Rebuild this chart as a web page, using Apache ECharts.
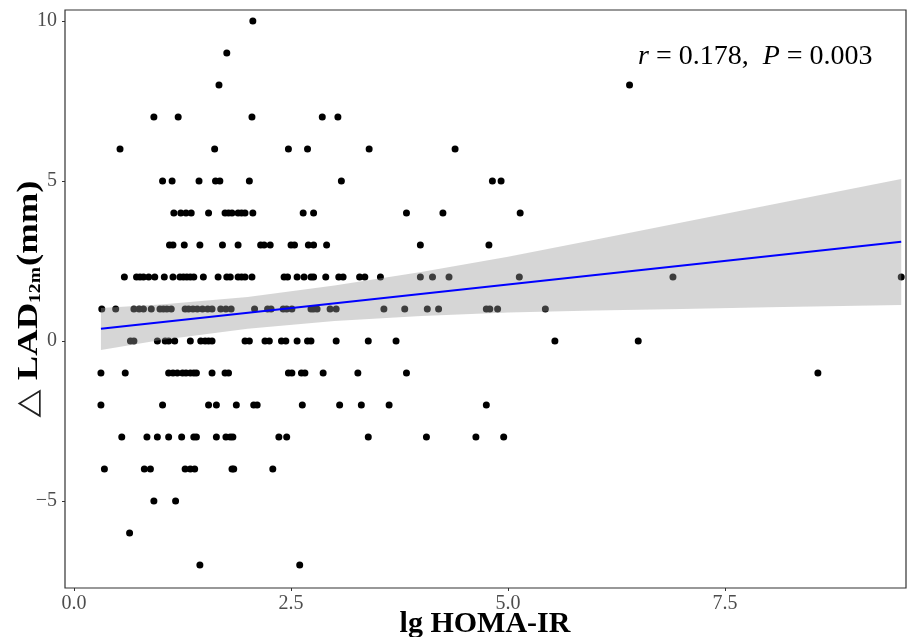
<!DOCTYPE html>
<html>
<head>
<meta charset="utf-8">
<script src="https://cdn.jsdelivr.net/npm/echarts@6/dist/echarts.min.js"></script>
<style>
  html, body { margin: 0; padding: 0; background: #fff; }
  #chart { width: 908px; height: 637px; }
</style>
</head>
<body>
<div id="chart"></div>
<script>
// ΔLAD 取整数值，每一行列出对应的 lg HOMA-IR
var yLevels = [10, 9, 8, 7, 6, 5, 4, 3, 2, 1, 0, -1, -2, -3, -4, -5, -6, -7]
var xByLevel = [
	[2.06],
	[1.76],
	[1.67, 6.40],
	[0.92, 1.20, 2.05, 2.86, 3.04],
	[0.53, 1.62, 2.47, 2.69, 3.40, 4.39],
	[1.02, 1.13, 1.44, 1.63, 1.68, 2.02, 3.08, 4.82, 4.92],
	[1.15, 1.23, 1.29, 1.35, 1.55, 1.74, 1.78, 1.82, 1.89, 1.93, 1.97, 2.06, 2.64, 2.76, 3.83, 4.25, 5.14],
	[1.10, 1.14, 1.27, 1.45, 1.71, 1.89, 2.15, 2.19, 2.26, 2.50, 2.54, 2.70, 2.76, 2.91, 3.99, 4.78],
	[0.58, 0.72, 0.76, 0.80, 0.86, 0.93, 1.04, 1.14, 1.22, 1.26, 1.30, 1.34, 1.38, 1.49, 1.66, 1.76, 1.80, 1.89, 1.93, 1.97, 2.05,
		2.42, 2.46, 2.57, 2.65, 2.73, 2.76, 2.90, 3.05, 3.10, 3.29, 3.35, 3.53, 3.99, 4.13, 4.32, 5.13, 6.90, 9.53],
	[0.32, 0.48, 0.69, 0.75, 0.80, 0.89, 0.99, 1.03, 1.07, 1.12, 1.28, 1.32, 1.37, 1.42, 1.48, 1.54, 1.59, 1.69, 1.75, 1.81,
		2.08, 2.23, 2.27, 2.41, 2.45, 2.51, 2.73, 2.76, 2.80, 2.95, 3.02, 3.57, 3.81, 4.07, 4.20, 4.75, 4.79, 4.88, 5.43],
	[0.65, 0.69, 0.96, 1.05, 1.09, 1.16, 1.34, 1.46, 1.51, 1.55, 1.59, 1.97, 2.02, 2.20, 2.25, 2.39, 2.44, 2.57, 2.69, 2.73,
		3.02, 3.39, 3.71, 5.54, 6.50],
	[0.31, 0.59, 1.09, 1.14, 1.19, 1.25, 1.29, 1.34, 1.38, 1.41, 1.59, 1.74, 1.78, 2.47, 2.51, 2.62, 2.66, 2.87, 3.27, 3.83, 8.57],
	[0.31, 1.02, 1.55, 1.64, 1.87, 2.07, 2.11, 2.63, 3.06, 3.31, 3.63, 4.75],
	[0.55, 0.84, 0.96, 1.09, 1.24, 1.38, 1.41, 1.64, 1.75, 1.80, 1.83, 2.36, 2.45, 3.39, 4.06, 4.63, 4.95],
	[0.35, 0.81, 0.88, 1.28, 1.34, 1.39, 1.82, 1.84, 2.29],
	[0.92, 1.17],
	[0.64],
	[1.45, 2.60]
]

// 回归直线与95%置信带
var fitX = [0.31, 9.53]
var fitY = [0.38, 3.10]
var bandX = [0.31, 1, 2, 3, 4, 5, 6, 7, 8, 9.53]
var bandLower = [-0.28, 0.03, 0.38, 0.62, 0.78, 0.89, 0.95, 1.00, 1.05, 1.12]
var bandUpper = [1.03, 1.14, 1.37, 1.73, 2.15, 2.63, 3.16, 3.70, 4.24, 5.06]

// 刻度
var xTicks = [0, 2.5, 5, 7.5]
var yTicks = [-5, 0, 5, 10]

var points = []
for (var i = 0; i < yLevels.length; i++) {
	for (var j = 0; j < xByLevel[i].length; j++) {
		points.push([xByLevel[i][j], yLevels[i]])
	}
}

var fitLine = []
for (var k = 0; k < fitX.length; k++) {
	fitLine.push([fitX[k], fitY[k]])
}

function renderBand(params, api) {
	var pts = []
	for (var i = 0; i < bandX.length; i++) {
		pts.push(api.coord([bandX[i], bandUpper[i]]))
	}
	for (var j = bandX.length - 1; j >= 0; j--) {
		pts.push(api.coord([bandX[j], bandLower[j]]))
	}
	return {
		type: 'polygon',
		shape: { points: pts },
		style: { fill: 'rgba(153,153,153,0.4)' }
	}
}

var serif = "'Liberation Serif', 'DejaVu Serif', serif"

var option = {
	animation: false,
	backgroundColor: '#fff',
	textStyle: { fontFamily: serif },
	title: {
		text: '{i|r} = 0.178,  {i|P} = 0.003',
		left: 633,
		top: 38,
		textStyle: {
			fontFamily: serif,
			fontSize: 28,
			fontWeight: 'normal',
			color: '#000',
			rich: {
				i: { fontFamily: serif, fontSize: 28, fontStyle: 'italic', color: '#000' }
			}
		}
	},
	// 坐标轴标题
	graphic: [{
		type: 'text',
		x: 29,
		y: 299,
		rotation: Math.PI / 2,
		scaleX: 1.22,
		style: {
			text: '{t|△ }{b|LAD}{s|12m}{b|(mm)}',
			align: 'center',
			verticalAlign: 'middle',
			rich: {
				t: { fontFamily: serif, fontSize: 30, fontWeight: 'normal', fill: '#222' },
				b: { fontFamily: serif, fontSize: 30, fontWeight: 'bold', fill: '#000' },
				s: { fontFamily: serif, fontSize: 16, fontWeight: 'bold', fill: '#000', verticalAlign: 'bottom', padding: [12, 1, 0, 0] }
			}
		}
	}, {
		type: 'text',
		x: 485,
		y: 624,
		style: {
			text: 'lg HOMA-IR',
			align: 'center',
			verticalAlign: 'middle',
			fontFamily: serif,
			fontSize: 30,
			fontWeight: 'bold',
			fill: '#000'
		}
	}],
	grid: {
		left: 65,
		top: 10,
		right: 2,
		bottom: 49,
		show: true,
		borderColor: '#333',
		borderWidth: 1.2,
		containLabel: false,
		outerBoundsMode: 'none'
	},
	xAxis: {
		type: 'value',
		min: -0.104,
		max: 9.585,
		axisLine: { show: false, onZero: false },
		splitLine: { show: false },
		axisTick: {
			show: true,
			length: 3,
			lineStyle: { color: '#333' },
			customValues: xTicks
		},
		axisLabel: {
			customValues: xTicks,
			fontFamily: serif,
			fontSize: 20,
			color: '#4d4d4d',
			margin: 6,
			formatter: function (v) {
				return v.toFixed(1)
			}
		}
	},
	yAxis: {
		type: 'value',
		min: -7.72,
		max: 10.34,
		axisLine: { show: false, onZero: false },
		splitLine: { show: false },
		axisTick: {
			show: true,
			length: 3,
			lineStyle: { color: '#333' },
			customValues: yTicks
		},
		axisLabel: {
			customValues: yTicks,
			fontFamily: serif,
			fontSize: 20,
			color: '#4d4d4d',
			margin: 8,
			formatter: function (v) {
				return v < 0 ? '\u2212' + Math.abs(v) : String(v)
			}
		}
	},
	series: [
		{
			name: 'points',
			type: 'scatter',
			data: points,
			symbol: 'circle',
			symbolSize: 7,
			itemStyle: { color: '#000', opacity: 1 },
			z: 2
		},
		{
			name: 'band',
			type: 'custom',
			renderItem: renderBand,
			data: [[bandX[0], bandLower[0]]],
			z: 3,
			silent: true
		},
		{
			name: 'fit',
			type: 'line',
			data: fitLine,
			symbol: 'none',
			lineStyle: { color: '#0000ff', width: 2 },
			z: 4
		}
	]
}

var chart = echarts.init(document.getElementById('chart'))
chart.setOption(option)
window.addEventListener('resize', function () {
	chart.resize()
})
</script>
</body>
</html>
